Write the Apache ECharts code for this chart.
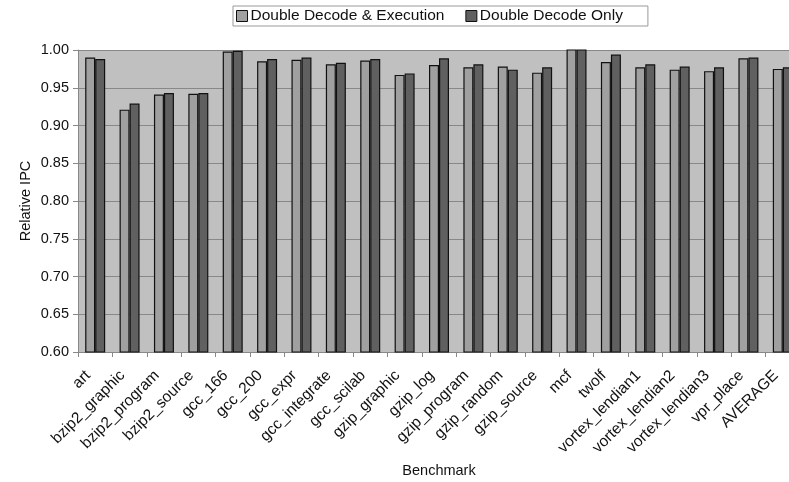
<!DOCTYPE html>
<html>
<head>
<meta charset="utf-8">
<script src="https://cdn.jsdelivr.net/npm/echarts@6/dist/echarts.min.js"></script>
<style>
  html, body { margin: 0; padding: 0; background: #fff; }
  #chart { width: 789px; height: 482px; }
</style>
</head>
<body>
<div id="chart"></div>
<script>
// Benchmarks on the x axis
const benchmarks = [
  'art', 'bzip2_graphic', 'bzip2_program', 'bzip2_source', 'gcc_166', 'gcc_200',
  'gcc_expr', 'gcc_integrate', 'gcc_scilab', 'gzip_graphic', 'gzip_log',
  'gzip_program', 'gzip_random', 'gzip_source', 'mcf', 'twolf',
  'vortex_lendian1', 'vortex_lendian2', 'vortex_lendian3', 'vpr_place', 'AVERAGE'
];

// Relative IPC per benchmark
const decodeAndExecution = [
  0.990, 0.921, 0.941, 0.942, 0.998, 0.985, 0.987, 0.981, 0.986, 0.967, 0.980,
  0.977, 0.978, 0.970, 1.002, 0.984, 0.977, 0.974, 0.972, 0.989, 0.975
];
const decodeOnly = [
  0.988, 0.929, 0.943, 0.943, 0.999, 0.988, 0.990, 0.983, 0.988, 0.969, 0.989,
  0.981, 0.974, 0.977, 1.001, 0.994, 0.981, 0.978, 0.977, 0.990, 0.977
];

const seriesNames = ['Double Decode & Execution', 'Double Decode Only'];

const font = 'Liberation Sans, Arial, Helvetica, sans-serif';
const chart = echarts.init(document.getElementById('chart'), null, { renderer: 'canvas' });

chart.setOption({
  animation: false,
  backgroundColor: '#ffffff',
  textStyle: { fontFamily: font },
  legend: {
    data: seriesNames,
    icon: 'rect',
    left: 233,
    top: 6,
    padding: [2, 25, 2, 3],
    itemGap: 21,
    itemWidth: 11,
    itemHeight: 11,
    itemStyle: { borderColor: '#111', borderWidth: 1 },
    borderColor: '#999',
    borderWidth: 1,
    textStyle: { fontSize: 15.5, color: '#111', fontFamily: font, padding: [0, 0, 0, -2] }
  },
  grid: {
    left: 78,
    width: 722,
    top: 50,
    bottom: 130,
    outerBoundsMode: 'none',
    show: true,
    backgroundColor: '#c0c0c0',
    borderWidth: 0
  },
  xAxis: {
    type: 'category',
    data: benchmarks,
    name: 'Benchmark',
    nameLocation: 'middle',
    nameGap: 111,
    nameMoveOverlap: false,
    nameTextStyle: { fontSize: 14.5, color: '#111', fontFamily: font },
    axisLine: { lineStyle: { color: '#888', width: 1 } },
    axisTick: { show: true, length: 5, lineStyle: { color: '#888' } },
    axisLabel: {
      interval: 0,
      rotate: 45,
      margin: 14,
      padding: [0, 10, 0, 0],
      fontSize: 15.5,
      color: '#111',
      fontFamily: font
    }
  },
  yAxis: {
    type: 'value',
    min: 0.6,
    max: 1.0,
    interval: 0.05,
    name: 'Relative IPC',
    nameLocation: 'middle',
    nameGap: 45,
    nameMoveOverlap: false,
    nameRotate: 90,
    nameTextStyle: { fontSize: 14.5, color: '#111', fontFamily: font },
    axisLine: { show: true, lineStyle: { color: '#888', width: 1 } },
    axisTick: { show: true, length: 5, lineStyle: { color: '#888' } },
    axisLabel: {
      fontSize: 14.5,
      color: '#111',
      margin: 9,
      fontFamily: font,
      formatter: v => v.toFixed(2)
    },
    splitLine: { show: true, lineStyle: { color: '#888', width: 1 } }
  },
  series: [
    {
      name: seriesNames[0],
      type: 'bar',
      data: decodeAndExecution,
      barWidth: 10,
      barGap: '0%',
      itemStyle: { color: '#a0a0a0', borderColor: '#111', borderWidth: 1.2 }
    },
    {
      name: seriesNames[1],
      type: 'bar',
      data: decodeOnly,
      barWidth: 10,
      barGap: '0%',
      itemStyle: { color: '#606060', borderColor: '#111', borderWidth: 1.2 }
    }
  ]
});
</script>
</body>
</html>
